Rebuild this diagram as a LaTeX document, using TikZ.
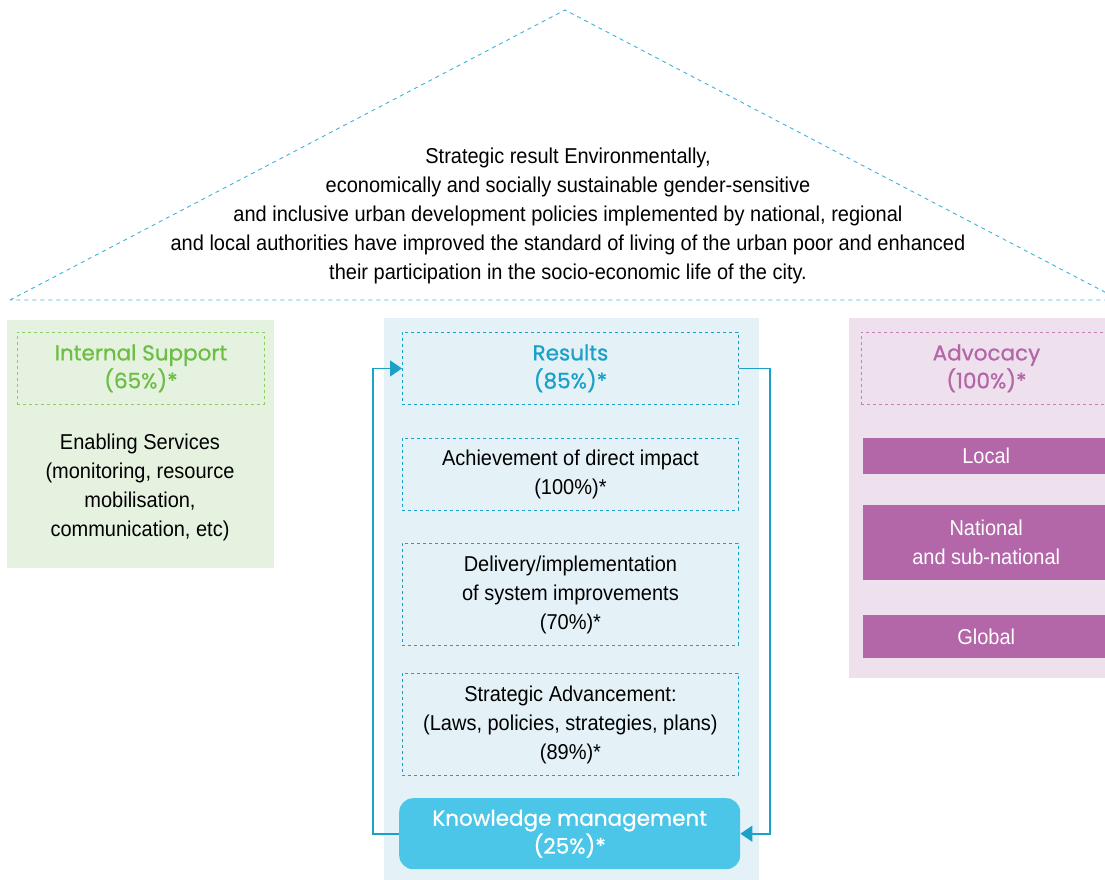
\documentclass[tikz,border=0pt]{standalone}
\usepackage{fontspec}
\setmainfont{Liberation Sans}[FakeStretch=0.93]
\newfontfamily\headfont{Poppins}[FakeBold=0.8]
\usetikzlibrary{shapes,arrows.meta,positioning}
\definecolor{roofblue}{HTML}{3AB2DC}
\definecolor{lineblue}{HTML}{1BA0C8}
\definecolor{corebg}{HTML}{E4F2F8}
\definecolor{kmfill}{HTML}{4CC6E8}
\definecolor{supportgreen}{HTML}{6CBE45}
\definecolor{supportdash}{HTML}{8CCB6A}
\definecolor{supportbg}{HTML}{E6F2E0}
\definecolor{advpurple}{HTML}{B366A8}
\definecolor{advdash}{HTML}{C57FBA}
\definecolor{advbg}{HTML}{EFE0EE}
\newcommand{\bodysize}{\fontsize{21.5}{29}\selectfont}
\newcommand{\headsize}{\headfont\fontsize{21.5}{28}\selectfont}
\tikzstyle{panel} = [rectangle, inner sep=0pt, anchor=north west]
\tikzstyle{dashbox} = [panel, draw=lineblue, line width=0.9pt,
    dash pattern=on 3pt off 3pt, align=center, font=\bodysize]
\tikzstyle{bar} = [panel, fill=advpurple, text=white, align=center,
    font=\bodysize]
\tikzstyle{roof} = [draw=roofblue, line width=0.9pt, dash pattern=on 4pt off 4pt]
\tikzstyle{flow} = [draw=lineblue, line width=1.6pt,
    -{Triangle[length=12pt,width=16pt]}]

\begin{document}
\begin{tikzpicture}[x=1pt, y=-1pt]
    \useasboundingbox (0,0) rectangle (1105,880);
    \clip (0,0) rectangle (1105,880);
    % Roof
    \coordinate (eaveL) at (10,300);
    \coordinate (peak) at (565,10);
    \coordinate (eaveR) at (1120,300);
    \draw[roof] (eaveL) -- (peak) -- (eaveR) -- cycle;
    \node [align=center, font=\bodysize] (goal) at (568,216)
        {Strategic result Environmentally,\\
        economically and socially sustainable gender-sensitive\\
        and inclusive urban development policies implemented by national, regional\\
        and local authorities have improved the standard of living of the urban poor and enhanced\\
        their participation in the socio-economic life of the city.};

    % Panels
    \node [panel, fill=supportbg, minimum width=267pt, minimum height=248pt] (support) at (7,320) {};
    \node [panel, fill=corebg, minimum width=375pt, minimum height=570pt] (core) at (384,318) {};
    \node [panel, fill=advbg, minimum width=275pt, minimum height=360pt] (advocacy) at (849,318) {};

    % Internal support
    \node [dashbox, draw=supportdash, text=supportgreen, font=\headsize,
        minimum width=247pt, minimum height=72pt] (supporthead) at (17,332) {Internal Support\\(65\%)*};
    \node [align=center, font=\bodysize] (services) at (140,487)
        {Enabling Services\\(monitoring, resource\\mobilisation,\\communication, etc)};

    % Results
    \node [dashbox, text=lineblue, font=\headsize,
        minimum width=336pt, minimum height=72pt] (results) at (402,332) {Results\\(85\%)*};
    \node [dashbox, minimum width=336pt, minimum height=72pt] (impact) at (402,438)
        {Achievement of direct impact\\(100\%)*};
    \node [dashbox, minimum width=336pt, minimum height=102pt] (delivery) at (402,543)
        {Delivery/implementation\\of system improvements\\(70\%)*};
    \node [dashbox, minimum width=336pt, minimum height=102pt] (advance) at (402,673)
        {Strategic Advancement:\\(Laws, policies, strategies, plans)\\(89\%)*};
    \node [panel, fill=kmfill, rounded corners=14pt, text=white, align=center, font=\headsize,
        minimum width=341pt, minimum height=71pt] (km) at (399,798) {Knowledge management\\(25\%)*};

    % Advocacy
    \node [dashbox, draw=advdash, text=advpurple, font=\headsize,
        minimum width=250pt, minimum height=72pt] (advhead) at (861,332) {Advocacy\\(100\%)*};
    \node [bar, minimum width=246pt, minimum height=36pt] (local) at (863,438) {Local};
    \node [bar, minimum width=246pt, minimum height=75pt] (national) at (863,505) {National\\and sub-national};
    \node [bar, minimum width=246pt, minimum height=43pt] (global) at (863,615) {Global};

    % Feedback loop
    \draw[flow] (km.west) -- ++(-26,0) |- (results.west);
    \draw[flow] (results.east) -- ++(31,0) |- (km.east);
\end{tikzpicture}
\end{document}
